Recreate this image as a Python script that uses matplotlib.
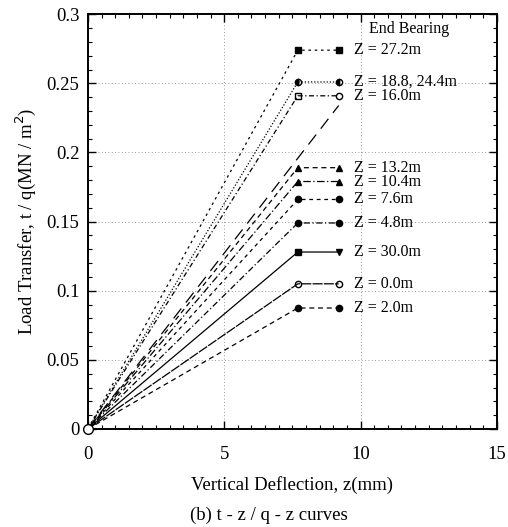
import matplotlib
matplotlib.use("Agg")
import matplotlib.pyplot as plt
from matplotlib.ticker import MultipleLocator, FuncFormatter

plt.rcParams['font.family'] = ['Liberation Serif', 'DejaVu Serif']

# deflection points of each curve (mm): origin, yield, end
deflection = [0.0, 7.7, 9.2]

# depth labels and load transfer plateau (MN/m2)
z_labels = ["Z = 27.2m", "Z = 18.8, 24.4m", "Z = 16.0m", "Z = 13.2m", "Z = 10.4m",
            "Z = 7.6m", "Z = 4.8m", "Z = 30.0m", "Z = 0.0m", "Z = 2.0m"]
t_plateau = [0.274, 0.251, 0.241, 0.189, 0.179, 0.166, 0.149, 0.128, 0.105, 0.0875]

# long dashed line without markers
extra_x = [0.0, 9.2]
extra_t = [0.0, 0.234]

styles = [
    dict(ls=(0, (2, 3)), m1='s', m2='s', fill='full'),
    dict(ls=(0, (1, 1.5)), m1='o', m2='o', fill='left'),
    dict(ls=(0, (4, 2, 1, 2)), m1='s', m2='o', fill='none'),
    dict(ls=(0, (4, 3)), m1='^', m2='^', fill='full'),
    dict(ls=(0, (6, 2, 1, 2)), m1='^', m2='^', fill='full'),
    dict(ls=(0, (3, 3)), m1='o', m2='o', fill='full'),
    dict(ls=(0, (5, 2, 1, 2)), m1='o', m2='o', fill='full'),
    dict(ls='-', m1='s', m2='v', fill='full'),
    dict(ls=(0, (8, 1)), m1='o', m2='o', fill='none'),
    dict(ls=(0, (4, 3)), m1='o', m2='o', fill='full'),
]

fig = plt.figure(figsize=(5.08, 5.27), dpi=100)
ax = fig.add_axes([0.173, 0.186, 0.805, 0.787])

for lab, t, st in zip(z_labels, t_plateau, styles):
    ys = [0.0, t, t]
    face = 'black' if st['fill'] != 'none' else 'white'
    ax.plot(deflection, ys, color='black', lw=0.9, ls=st['ls'])
    ax.plot(deflection[1], t, marker=st['m1'], ms=4.5, color='black',
            fillstyle=st['fill'], mfc=face, ls='none')
    ax.plot(deflection[2], t, marker=st['m2'], ms=4.5, color='black',
            fillstyle=st['fill'], mfc=face, ls='none')
    ax.text(deflection[2] + 0.55, t, lab, fontsize=11.5, va='center', ha='left')

ax.plot(extra_x, extra_t, color='black', lw=0.9, ls=(0, (10, 6)))

ax.plot(0, 0, marker='o', ms=7, mfc='white', mec='black', clip_on=False, zorder=5)

ax.text(10.3, 0.2895, "End Bearing", fontsize=11.5, va='center', ha='left')

ax.set_xlim(0, 15)
ax.set_ylim(0, 0.3)
ax.xaxis.set_major_locator(MultipleLocator(5))
ax.xaxis.set_minor_locator(MultipleLocator(0.5))
ax.yaxis.set_major_locator(MultipleLocator(0.05))
ax.yaxis.set_minor_locator(MultipleLocator(0.01))
ax.yaxis.set_major_formatter(FuncFormatter(lambda v, p: "%g" % round(v, 3)))
ax.tick_params(which='both', direction='in', top=True, right=True, labelsize=13.5)
ax.tick_params(which='major', length=6, width=1)
ax.tick_params(which='minor', length=3, width=0.8)
ax.tick_params(axis='x', pad=12)
ax.tick_params(axis='y', pad=6)
for s in ax.spines.values():
    s.set_linewidth(1.4)
ax.grid(True, which='major', color='#777777', ls=(0, (1, 3)), lw=0.6)

ax.set_xlabel("Vertical Deflection, z(mm)", fontsize=13.5, labelpad=10)
ax.set_ylabel("Load Transfer, t / q(MN / m$^2$)", fontsize=13.5, labelpad=6)
fig.text(0.53, 0.005, "(b) t - z / q - z curves", fontsize=13.5, ha='center', va='bottom')

fig.savefig("out.png", dpi=100)
